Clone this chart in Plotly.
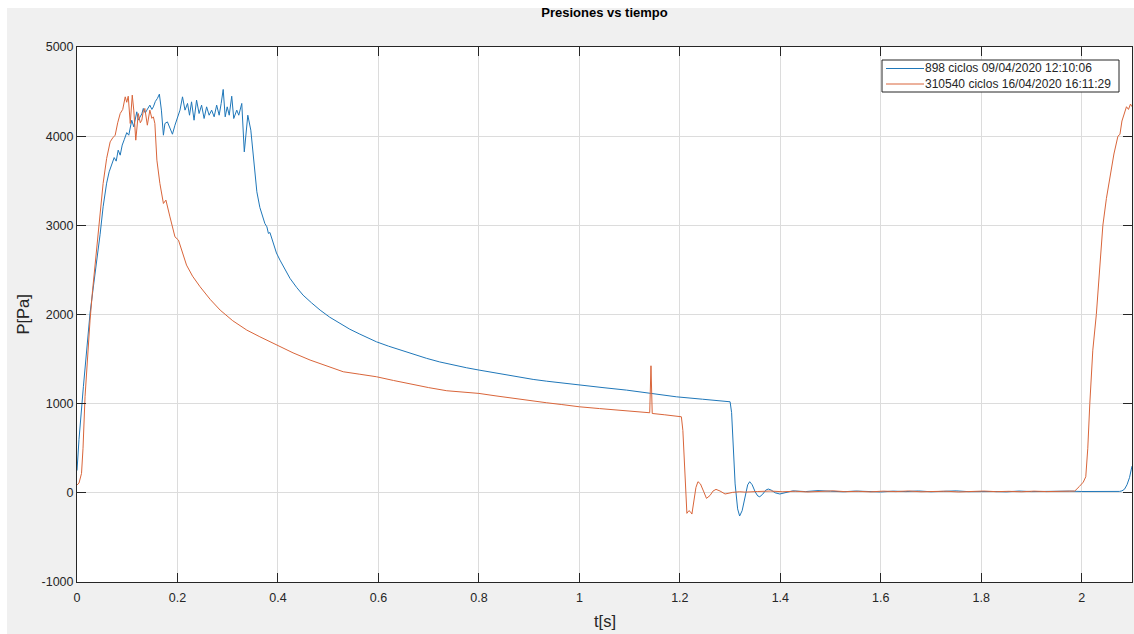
import plotly.graph_objects as go

# ---------------- data ----------------
blue_name = "898 ciclos 09/04/2020 12:10:06"
orange_name = "310540 ciclos 16/04/2020 16:11:29"

blue_t = [0.000, 0.004, 0.0127, 0.020, 0.026, 0.033, 0.039, 0.046, 0.052, 0.059,
          0.064, 0.069, 0.074, 0.078, 0.082, 0.086, 0.090, 0.094, 0.099, 0.103,
          0.109, 0.113, 0.119, 0.122, 0.125, 0.129, 0.132, 0.136, 0.139, 0.142,
          0.145, 0.149, 0.152, 0.156, 0.160, 0.164, 0.168, 0.172, 0.175, 0.180,
          0.185, 0.190, 0.195, 0.200, 0.205, 0.210, 0.215, 0.220, 0.224, 0.228,
          0.233, 0.238, 0.243, 0.248, 0.253, 0.258, 0.263, 0.268, 0.273, 0.278,
          0.283, 0.287, 0.291, 0.295, 0.299, 0.303, 0.308, 0.312, 0.318, 0.322,
          0.328, 0.333, 0.340, 0.346, 0.352, 0.358, 0.364, 0.368, 0.374, 0.378,
          0.381, 0.384, 0.388, 0.391, 0.397, 0.404, 0.414, 0.424, 0.437, 0.450,
          0.467, 0.484, 0.503, 0.523, 0.543, 0.563, 0.580, 0.596, 0.620, 0.643,
          0.670, 0.696, 0.722, 0.749, 0.775, 0.800, 0.828, 0.855, 0.882, 0.908,
          0.935, 0.961, 1.000, 1.047, 1.094, 1.143, 1.193, 1.245, 1.280, 1.300,
          1.303, 1.306, 1.310, 1.315, 1.319, 1.324, 1.330, 1.335, 1.339, 1.344,
          1.350, 1.355, 1.359, 1.365, 1.371, 1.376, 1.382, 1.390, 1.399, 1.410,
          1.425, 1.450, 1.475, 1.500, 1.525, 1.550, 1.575, 1.600, 1.625, 1.650,
          1.675, 1.700, 1.725, 1.750, 1.775, 1.800, 1.825, 1.850, 1.875, 1.900,
          1.925, 1.950, 1.975, 2.000, 2.025, 2.050, 2.075, 2.080, 2.085, 2.090,
          2.095, 2.100]
blue_p = [250, 600, 1190, 1650, 2015, 2330, 2573, 2900, 3208, 3473,
          3600, 3694, 3760, 3720, 3843, 3787, 3900, 3960, 4040, 4011,
          4179, 4104, 4273, 4180, 4217, 4250, 4311, 4260, 4292, 4330,
          4348, 4300, 4329, 4390, 4423, 4471, 4292, 4011, 4142, 4160,
          4086, 4022, 4123, 4217, 4292, 4441, 4292, 4367, 4235, 4385,
          4179, 4404, 4254, 4348, 4198, 4329, 4235, 4292, 4217, 4348,
          4235, 4367, 4524, 4217, 4329, 4235, 4448, 4198, 4292, 4235,
          4367, 3824, 4235, 4067, 3700, 3376, 3200, 3133, 3020, 2983,
          2909, 2920, 2850, 2778, 2690, 2610, 2500, 2405, 2305, 2217,
          2130, 2049, 1970, 1900, 1835, 1780, 1735, 1694, 1645, 1601,
          1555, 1508, 1468, 1433, 1403, 1377, 1348, 1321, 1295, 1272,
          1252, 1234, 1209, 1180, 1152, 1113, 1077, 1050, 1032, 1021,
          900, 516, 100, -180, -260, -200, -20, 90, 125, 90,
          10, -35, -44, -15, 30, 43, 30, 0, -13, 5,
          22, 14, 25, 18, 12, 20, 16, 10, 19, 14,
          21, 12, 17, 22, 13, 18, 15, 11, 20, 14,
          17, 12, 19, 15, 13, 18, 16, 22, 40, 90,
          170, 300]

orange_t = [0.000, 0.004, 0.009, 0.012, 0.016, 0.021, 0.026, 0.031, 0.036, 0.042,
            0.049, 0.052, 0.059, 0.066, 0.071, 0.076, 0.081, 0.086, 0.091, 0.096,
            0.099, 0.102, 0.106, 0.110, 0.113, 0.117, 0.122, 0.126, 0.129, 0.132,
            0.135, 0.140, 0.145, 0.149, 0.152, 0.155, 0.159, 0.165, 0.172, 0.177,
            0.185, 0.195, 0.202, 0.210, 0.218, 0.230, 0.245, 0.265, 0.285, 0.310,
            0.338, 0.364, 0.397, 0.430, 0.464, 0.497, 0.530, 0.563, 0.596, 0.630,
            0.663, 0.700, 0.736, 0.770, 0.800, 0.834, 0.868, 0.900, 0.935, 0.965,
            1.000, 1.040, 1.080, 1.110, 1.140, 1.1425, 1.145, 1.170, 1.203, 1.206,
            1.208, 1.211, 1.214, 1.218, 1.221, 1.224, 1.228, 1.232, 1.236, 1.241,
            1.247, 1.253, 1.260, 1.266, 1.272, 1.280, 1.290, 1.305, 1.319, 1.330,
            1.355, 1.380, 1.405, 1.430, 1.455, 1.480, 1.505, 1.530, 1.555, 1.580,
            1.605, 1.630, 1.655, 1.680, 1.705, 1.730, 1.755, 1.780, 1.805, 1.830,
            1.855, 1.880, 1.905, 1.930, 1.955, 1.986, 1.995, 2.003, 2.008, 2.012,
            2.016, 2.022, 2.029, 2.035, 2.042, 2.049, 2.056, 2.064, 2.072, 2.076,
            2.080, 2.085, 2.089, 2.093, 2.097, 2.100]
orange_p = [87, 110, 218, 500, 1078, 1520, 1937, 2270, 2573, 2950,
            3320, 3470, 3750, 3936, 3980, 4011, 4150, 4254, 4300, 4441,
            4380, 4448, 4142, 4460, 4292, 3955, 4254, 4150, 4179, 4280,
            4311, 4123, 4292, 4200, 4217, 4142, 3731, 3470, 3245, 3283,
            3095, 2871, 2834, 2700, 2554, 2430, 2311, 2170, 2049, 1930,
            1825, 1750, 1657, 1570, 1489, 1420, 1358, 1330, 1302, 1260,
            1220, 1180, 1145, 1130, 1115, 1087, 1059, 1035, 1010, 990,
            965, 945, 925, 912, 898, 1425, 890, 875, 853, 700,
            480, 100, -230, -200, -212, -238, -100, 60, 125, 100,
            20, -62, -30, 20, 39, 20, -13, 5, 12, 8,
            15, 20, 12, 18, 10, 16, 22, 13, 17, 11,
            19, 14, 21, 12, 16, 18, 10, 15, 20, 13,
            17, 12, 19, 14, 16, 20, 70, 120, 180, 500,
            1000, 1600, 2000, 2500, 3000, 3300, 3550, 3800, 4000, 4020,
            4170, 4250, 4330, 4300, 4360, 4330]

x_ticks = [0, 0.2, 0.4, 0.6, 0.8, 1, 1.2, 1.4, 1.6, 1.8, 2]
x_tick_labels = ["0", "0.2", "0.4", "0.6", "0.8", "1", "1.2", "1.4", "1.6", "1.8", "2"]
y_ticks = [-1000, 0, 1000, 2000, 3000, 4000, 5000]
y_tick_labels = ["-1000", "0", "1000", "2000", "3000", "4000", "5000"]

# ---------------- layout helpers ----------------
W, H = 1134, 634
ML, MR, MT, MB = 77, 2, 47, 52
PW, PH = W - ML - MR, H - MT - MB


def px2x(px):
    return (px - ML) / PW


def py2y(py):
    return (H - MB - py) / PH


BLUE = "#1f77b9"
ORANGE = "#d9653a"
AXC = "#262626"
FONT = "Liberation Sans, Arial, Helvetica, sans-serif"

fig = go.Figure()
fig.add_trace(go.Scatter(x=blue_t, y=blue_p, mode="lines", name=blue_name,
                         line=dict(color=BLUE, width=1), showlegend=False))
fig.add_trace(go.Scatter(x=orange_t, y=orange_p, mode="lines", name=orange_name,
                         line=dict(color=ORANGE, width=1), showlegend=False))

axis_common = dict(showline=True, linecolor=AXC, linewidth=1, mirror="ticks",
                   ticks="inside", ticklen=9, tickcolor=AXC, tickwidth=1,
                   showgrid=True, gridcolor="#dcdcdc", gridwidth=1,
                   zeroline=False, tickfont=dict(family=FONT, size=12.5, color=AXC))

fig.update_xaxes(range=[0, 2.1], tickvals=x_ticks, ticktext=x_tick_labels,
                 ticklabelstandoff=4, **axis_common)
fig.update_yaxes(range=[-1000, 5000], tickvals=y_ticks, ticktext=y_tick_labels,
                 **axis_common)

# legend rows (one multi-line text keeps the rows tight without overlap)
LEG_X0, LEG_X1, LEG_Y0, LEG_Y1 = 882, 1119, 60, 92
ROW1, ROW2 = 68.5, 84.0

shapes = [
    # white frame strips (screenshot border)
    dict(type="rect", xref="paper", yref="paper", x0=px2x(0), x1=px2x(W + 5),
         y0=py2y(8), y1=py2y(-5), fillcolor="white", line=dict(width=0), layer="below"),
    dict(type="rect", xref="paper", yref="paper", x0=px2x(-5), x1=px2x(7),
         y0=py2y(H + 5), y1=py2y(-5), fillcolor="white", line=dict(width=0), layer="below"),
    # legend box
    dict(type="rect", xref="paper", yref="paper", x0=px2x(LEG_X0), x1=px2x(LEG_X1),
         y0=py2y(LEG_Y1), y1=py2y(LEG_Y0), fillcolor="white", line=dict(color=AXC, width=1)),
    dict(type="line", xref="paper", yref="paper", x0=px2x(886), x1=px2x(924),
         y0=py2y(ROW1), y1=py2y(ROW1), line=dict(color=BLUE, width=1)),
    dict(type="line", xref="paper", yref="paper", x0=px2x(886), x1=px2x(924),
         y0=py2y(ROW2), y1=py2y(ROW2), line=dict(color=ORANGE, width=1)),
]

annotations = [
    dict(text=blue_name + "<br>" + orange_name, xref="paper", yref="paper",
         x=px2x(923), y=py2y((ROW1 + ROW2) / 2), align="left",
         xanchor="left", yanchor="middle", showarrow=False,
         font=dict(family=FONT, size=12, color=AXC)),
    dict(text="t[s]", xref="paper", yref="paper", x=0.5, y=py2y(621),
         xanchor="center", yanchor="middle", showarrow=False,
         font=dict(family=FONT, size=16.5, color=AXC)),
    dict(text="P[Pa]", xref="paper", yref="paper", x=px2x(22), y=0.5,
         xanchor="center", yanchor="middle", showarrow=False, textangle=-90,
         font=dict(family=FONT, size=16.5, color=AXC)),
]

fig.update_layout(
    width=W, height=H,
    margin=dict(l=ML, r=MR, t=MT, b=MB, pad=0),
    paper_bgcolor="#f0f0f0", plot_bgcolor="white",
    title=dict(text="<b>Presiones vs tiempo</b>", x=0.5, xref="paper",
               y=1 - 12 / H, yref="container", xanchor="center", yanchor="middle",
               font=dict(family=FONT, size=13, color="black")),
    shapes=shapes, annotations=annotations, showlegend=False,
)

fig.write_html("out.html", config={"displayModeBar": False},
               post_script="document.body.style.margin='0';document.body.style.overflow='hidden';")
